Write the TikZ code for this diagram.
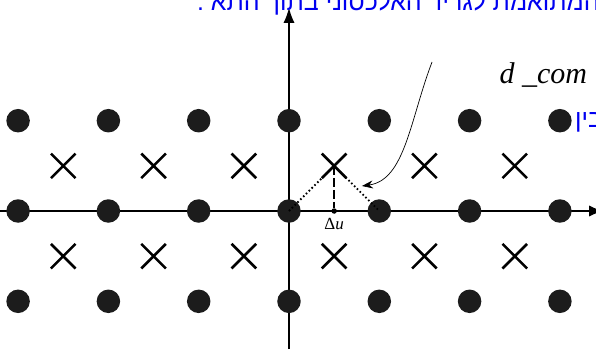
\documentclass[tikz,border=0pt]{standalone}
\usepackage{fontspec}
\setmainfont{Liberation Serif}
\newfontfamily\hebfont[Script=Hebrew]{Liberation Sans}
\usetikzlibrary{arrows.meta,positioning,shapes.misc}
\TeXXeTstate=1
\definecolor{dotgray}{HTML}{1C1C1C}
\definecolor{hebblue}{HTML}{0000F0}

\begin{document}
\begin{tikzpicture}[x=90.3pt,y=90.3pt,
    latt/.style={circle,fill=dotgray,inner sep=0pt,minimum size=23.5pt},
    xmark/.style={cross out,draw,line width=2.6pt,inner sep=0pt,minimum size=22pt},
    hebtext/.style={text=hebblue,font=\hebfont\fontsize{25}{30}\selectfont,inner sep=0pt}]
  \clip (-3.2004,-1.5282) rectangle (3.3998,2.3367);
  % axes
  \draw[line width=1.2pt,-{Latex[length=14pt,width=11pt]}] (-3.2,0) -- (3.48,0);
  \draw[line width=1.2pt,-{Latex[length=15pt,width=11pt]}] (0,-1.53) -- (0,2.25);
  % lattice points and midpoints
  \foreach \c in {0,...,6}
    \foreach \r in {0,1,2}
      \node[latt] (d\c\r) at (\c-3,\r-1) {};
  \foreach \c in {0,...,5}
    \foreach \r in {0,1}
      \node[xmark] (x\c\r) at (\c-2.5,\r-0.5) {};
  % offset
  \node[circle,fill=black,inner sep=0pt,minimum size=5.5pt] (du) at (0.5,0) {};
  \node[below=3pt of du,inner sep=1pt,font=\fontsize{17}{20}\selectfont] (dulab) {Δ\textit{u}};
  \draw[line width=1.8pt,dash pattern=on 9pt off 3pt] (x31.center) -- (du);
  \draw[line width=1.8pt,dash pattern=on 1.6pt off 2.4pt] (d31.center) -- (x31.center) -- (d41.center);
  % pointer
  \coordinate (ptr) at (1.584,1.650);
  \coordinate (tip) at (0.808,0.277);
  \draw[line width=0.7pt,-{Stealth[length=11pt,width=8pt]}] (ptr) .. controls (1.34,1.01) and (1.285,0.343) .. (tip);
  % labels
  \node[anchor=base west,inner sep=0pt,font=\fontsize{30}{36}\selectfont\itshape] (dcom) at (2.33,1.4175) {d \_com};
  \node[hebtext,anchor=base west] (toptext) at (-1.02,2.215) {\beginR מרחק הנקודה המתואמת לגריד האלכסוני בתוך התא .\endR};
  \node[hebtext,anchor=base west] (sidetext) at (3.167,0.93) {\beginR מרחק מינימלי בין\endR};
\end{tikzpicture}
\end{document}
